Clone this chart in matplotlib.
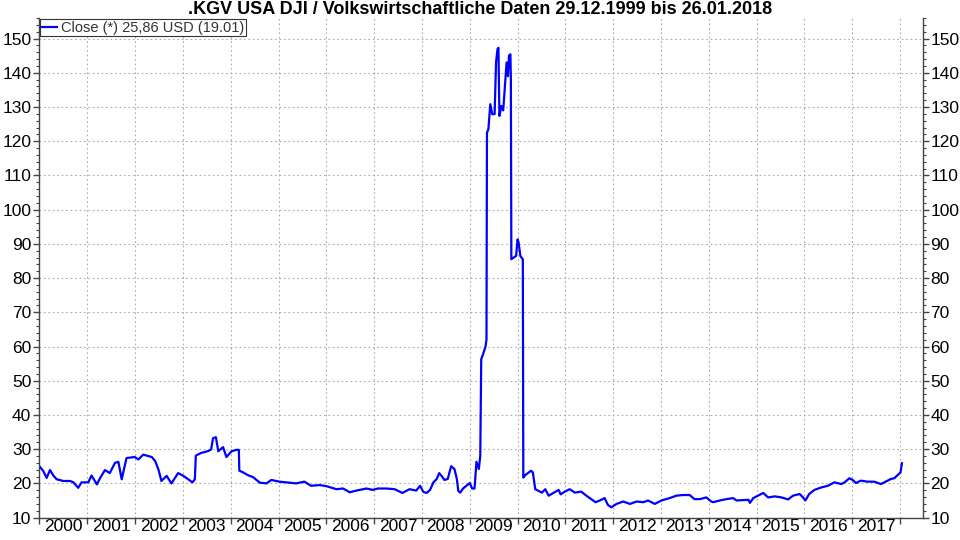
import matplotlib
matplotlib.use('Agg')
import matplotlib.pyplot as plt
from matplotlib.ticker import MultipleLocator, FixedLocator, NullFormatter

# --- Data (fractional year, KGV) ---
years = [
    2000.00, 2000.08, 2000.15, 2000.22, 2000.29, 2000.36, 2000.50, 2000.64, 2000.71, 2000.81,
    2000.88, 2001.02, 2001.09, 2001.20, 2001.27, 2001.37, 2001.47, 2001.58, 2001.65, 2001.72,
    2001.82, 2001.99, 2002.07, 2002.17, 2002.35, 2002.42, 2002.49, 2002.55, 2002.66, 2002.76,
    2002.90, 2003.01, 2003.11, 2003.20, 2003.25, 2003.27, 2003.38, 2003.52, 2003.59, 2003.63,
    2003.69, 2003.74, 2003.84, 2003.91, 2004.02, 2004.12, 2004.17, 2004.18, 2004.26, 2004.36,
    2004.47, 2004.61, 2004.75, 2004.85, 2005.02, 2005.16, 2005.37, 2005.54, 2005.68, 2005.86,
    2006.00, 2006.21, 2006.35, 2006.49, 2006.63, 2006.84, 2006.97, 2007.08, 2007.25, 2007.43,
    2007.59, 2007.74, 2007.88, 2007.96, 2008.03, 2008.10, 2008.17, 2008.24, 2008.31, 2008.36,
    2008.41, 2008.47, 2008.54, 2008.61, 2008.68, 2008.73, 2008.76, 2008.80, 2008.86, 2008.93,
    2009.00, 2009.05, 2009.10, 2009.14, 2009.19, 2009.22, 2009.24, 2009.28, 2009.33, 2009.35,
    2009.36, 2009.39, 2009.43, 2009.47, 2009.52, 2009.55, 2009.58, 2009.60, 2009.62, 2009.66,
    2009.70, 2009.73, 2009.77, 2009.80, 2009.82, 2009.85, 2009.86, 2009.87, 2009.92, 2009.97,
    2010.00, 2010.02, 2010.06, 2010.11, 2010.12, 2010.16, 2010.28, 2010.32, 2010.37, 2010.44,
    2010.51, 2010.58, 2010.65, 2010.76, 2010.86, 2010.90, 2010.99, 2011.09, 2011.20, 2011.33,
    2011.44, 2011.54, 2011.63, 2011.72, 2011.82, 2011.89, 2011.96, 2012.07, 2012.21, 2012.35,
    2012.49, 2012.63, 2012.73, 2012.87, 2013.01, 2013.18, 2013.32, 2013.46, 2013.60, 2013.70,
    2013.81, 2013.95, 2014.05, 2014.09, 2014.23, 2014.37, 2014.51, 2014.58, 2014.83, 2014.86,
    2014.93, 2015.00, 2015.14, 2015.24, 2015.38, 2015.52, 2015.66, 2015.76, 2015.90, 2015.97,
    2016.02, 2016.10, 2016.21, 2016.35, 2016.49, 2016.63, 2016.77, 2016.84, 2016.94, 2017.01,
    2017.08, 2017.18, 2017.32, 2017.46, 2017.60, 2017.70, 2017.81, 2017.88, 2017.95, 2018.01,
    2018.04,
]
kgv = [
    25.0, 23.6, 21.6, 23.9, 22.3, 21.2, 20.7, 20.7, 20.3, 18.7,
    20.3, 20.3, 22.3, 19.7, 21.6, 23.9, 23.0, 26.0, 26.3, 21.2,
    27.4, 27.7, 27.0, 28.4, 27.7, 26.5, 24.0, 20.7, 22.2, 20.0,
    23.0, 22.2, 21.2, 20.3, 21.2, 28.1, 28.9, 29.4, 29.9, 33.2,
    33.5, 29.4, 30.6, 27.7, 29.4, 29.8, 29.8, 23.7, 23.2, 22.4,
    21.8, 20.2, 20.0, 21.0, 20.5, 20.3, 20.0, 20.5, 19.3, 19.5,
    19.2, 18.3, 18.5, 17.4, 17.9, 18.5, 18.1, 18.5, 18.5, 18.3,
    17.2, 18.3, 17.9, 19.3, 17.5, 17.2, 18.1, 20.3, 21.3, 23.0,
    22.2, 21.0, 21.3, 25.0, 24.2, 21.3, 17.8, 17.3, 18.5, 19.3,
    20.1, 18.5, 18.5, 26.3, 24.2, 28.1, 56.3, 57.8, 60.0, 62.0,
    122.5, 123.5, 130.8, 127.9, 127.9, 143.0, 146.9, 147.3, 127.4, 130.3,
    129.0, 135.2, 143.0, 139.0, 145.0, 145.4, 138.0, 85.5, 86.0, 86.5,
    91.3, 90.5, 86.4, 85.5, 21.7, 22.4, 23.7, 23.2, 18.3, 17.8,
    17.3, 18.3, 16.4, 17.3, 18.1, 16.8, 17.6, 18.3, 17.3, 17.6,
    16.4, 15.4, 14.5, 15.0, 15.7, 13.7, 13.0, 14.0, 14.7, 14.0,
    14.7, 14.5, 15.0, 14.0, 15.0, 15.7, 16.4, 16.6, 16.6, 15.4,
    15.4, 15.9, 14.7, 14.5, 15.0, 15.4, 15.7, 15.0, 15.2, 14.3,
    15.7, 16.2, 17.2, 15.9, 16.2, 15.9, 15.3, 16.4, 16.9, 15.9,
    15.0, 16.9, 18.1, 18.8, 19.3, 20.3, 19.8, 20.3, 21.5, 21.0,
    20.1, 20.8, 20.5, 20.5, 19.8, 20.5, 21.3, 21.5, 22.4, 23.2,
    25.9,
]
year_labels = [str(y) for y in range(2000, 2018)]
y_ticks = list(range(10, 151, 10))

TITLE = ".KGV USA DJI / Volkswirtschaftliche Daten 29.12.1999 bis 26.01.2018"
LEGEND = "Close (*) 25,86 USD (19.01)"

plt.rcParams['font.family'] = ['Liberation Sans', 'DejaVu Sans']

fig = plt.figure(figsize=(9.6, 5.4), dpi=100)
fig.patch.set_facecolor('white')
ax = fig.add_axes([39 / 960, 1 - 517.6 / 540, (922.5 - 39) / 960, (517.6 - 18) / 540])

ax.plot(years, kgv, color='#0000ff', lw=1.6, label=LEGEND)

ax.set_xlim(1999.99, 2018.47)
ax.set_ylim(10, 156)

# grid on year boundaries and every 10 units
ax.xaxis.set_major_locator(FixedLocator(list(range(2000, 2019))))
ax.xaxis.set_major_formatter(NullFormatter())
ax.xaxis.set_minor_locator(FixedLocator([y + 0.5 for y in range(2000, 2018)]))
ax.xaxis.set_minor_formatter(plt.FixedFormatter(year_labels))
ax.tick_params(axis='x', which='major', direction='out', length=4, width=1, color='#444444')
ax.tick_params(axis='x', which='minor', length=0, labelsize=12.5, pad=1, labelcolor='black')

ax.yaxis.set_major_locator(FixedLocator(y_ticks))
ax.yaxis.set_minor_locator(MultipleLocator(2))
ax.tick_params(axis='y', which='both', left=True, right=True, labelleft=True, labelright=True,
               direction='out', color='#444444')
ax.tick_params(axis='y', which='major', length=4, width=1, labelsize=12.5, pad=1.5)
ax.tick_params(axis='y', which='minor', length=2, width=0.8)

ax.grid(True, which='major', color='#aaaaaa', lw=0.8, linestyle=(0, (1.5, 2.5)))

for side in ['left', 'right', 'bottom']:
    ax.spines[side].set_color('#444444')
    ax.spines[side].set_linewidth(1.0)
ax.spines['top'].set_visible(False)

leg = ax.legend(loc='upper left', bbox_to_anchor=(0.0, 1.0), borderaxespad=0.1,
                fancybox=False, framealpha=1, edgecolor='#333333', fontsize=10.5,
                handlelength=1.0, handletextpad=0.3, borderpad=0.1)
leg.get_frame().set_linewidth(0.8)
for t in leg.get_texts():
    t.set_color('#333333')

fig.text(0.5, 1 - 9 / 540, TITLE, ha='center', va='center', fontsize=13, fontweight='bold')

fig.savefig('out.png', dpi=100)
